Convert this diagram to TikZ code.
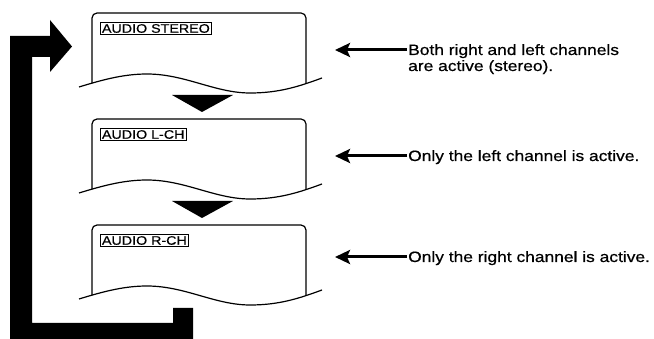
\documentclass[tikz,border=0pt]{standalone}
\usepackage{fontspec}
\setmainfont{Liberation Sans}
\newfontfamily\widefont[FakeStretch=1.16,FakeBold=0.6]{Liberation Sans}
\usetikzlibrary{arrows.meta}
\begin{document}
\begin{tikzpicture}[x=1pt,y=-1pt,
  panelline/.style={line width=1.2pt, rounded corners=5pt},
  waveline/.style={line width=1.2pt},
  tag/.style={draw, line width=0.8pt, inner sep=1.6pt, anchor=west,
    font=\widefont\fontsize{12.3}{12}\selectfont, minimum height=11.5pt},
  desc/.style={font=\widefont\fontsize{15}{16}\selectfont, inner sep=0pt,
    anchor=base west, align=left},
  pointer/.style={line width=3pt, -{Stealth[length=15pt,width=14pt,inset=3pt]}},
  nextmark/.style={fill=black},
  loopback/.style={fill=black}]
\useasboundingbox (0,0) rectangle (654,339);

% panels
\foreach \dy/\n/\lab in {0/1/AUDIO STEREO, 106/2/AUDIO L-CH, 212/3/AUDIO R-CH} {
  \begin{scope}[shift={(0,\dy)}]
    \begin{scope}
      \clip (60,-10) -- (60,87) -- (79,87)
        .. controls (105,79) and (125,74) .. (147,74)
        .. controls (185,74) and (215,93) .. (250,93)
        .. controls (280,93) and (300,86) .. (322,78)
        -- (340,78) -- (340,-10) -- cycle;
      \draw[panelline] (92,100) -- (92,13) -- (306,13) -- (306,100);
    \end{scope}
    \draw[waveline] (79,87)
        .. controls (105,79) and (125,74) .. (147,74)
        .. controls (185,74) and (215,93) .. (250,93)
        .. controls (280,93) and (300,86) .. (322,78);
    \node[tag] (tag\n) at (100,28.5) {\lab};
  \end{scope}
}

% down markers
\fill[nextmark] (172,95) -- (233,95) -- (202,112) -- cycle;
\fill[nextmark] (172,201) -- (233,201) -- (202,218) -- cycle;

% loop-back arrow
\fill[loopback] (10,339) -- (10,36) -- (50,36) -- (50,20) -- (72,46.5)
  -- (50,72) -- (50,57) -- (32,57) -- (32,323) -- (173,323) -- (173,308)
  -- (193,308) -- (193,339) -- cycle;

% descriptions
\node[desc] (d1) at (408,71) {Both right and left channels\\are active (stereo).};
\node[desc] (d2) at (408,161) {Only the left channel is active.};
\node[desc] (d3) at (408,262) {Only the right channel is active.};
\coordinate (p1) at (335,50);
\coordinate (p2) at (335,156);
\coordinate (p3) at (335,257);
\draw[pointer] ([xshift=-1pt]d1.west |- p1) -- (p1);
\draw[pointer] ([xshift=-1pt]d2.west |- p2) -- (p2);
\draw[pointer] ([xshift=-1pt]d3.west |- p3) -- (p3);
\end{tikzpicture}
\end{document}
